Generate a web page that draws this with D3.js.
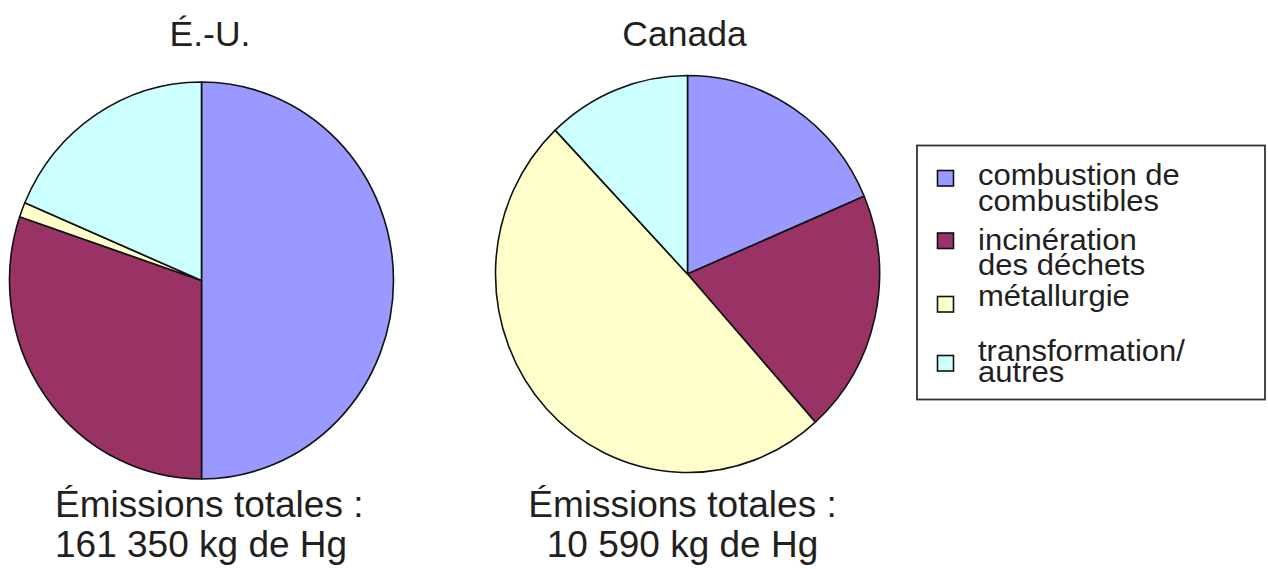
<!DOCTYPE html>
<html>
<head>
<meta charset="utf-8">
<script src="https://cdn.jsdelivr.net/npm/d3@7/dist/d3.min.js"></script>
<style>
  html, body { margin: 0; padding: 0; background: #fff; }
  svg { display: block; }
  text { font-family: "Liberation Sans", Arial, Helvetica, sans-serif; fill: #231f20; }
</style>
</head>
<body>
<svg id="chart" width="1268" height="569"></svg>
<script>
// Mercury emission sources (share of total, %)
const categories = ["combustion de combustibles", "incinération des déchets", "métallurgie", "transformation/autres"];
const legendLines = [["combustion de", "combustibles"], ["incinération", "des déchets"], ["métallurgie"], ["transformation/", "autres"]];
const colors = ["#9999ff", "#993366", "#ffffcc", "#ccffff"];
const usValues = [50.0, 30.2, 1.2, 18.6];
const canadaValues = [18.6, 19.8, 49.5, 12.1];
const titles = ["É.-U.", "Canada"];
const totals = ["161 350 kg de Hg", "10 590 kg de Hg"];
const totalsCaption = "Émissions totales :";

const svg = d3.select("#chart");
const color = d3.scaleOrdinal().domain(categories).range(colors);
const pie = d3.pie().sort(null).value(d => d.value);
const radius = 192;
const arc = d3.arc().innerRadius(0).outerRadius(radius);

const charts = [
  { values: usValues, cx: 201.5, cy: 280.5, titleX: 210, captionX: 55, anchor: "start" },
  { values: canadaValues, cx: 687.5, cy: 274, titleX: 684.5, captionX: 682.5, anchor: "middle" }
];

charts.forEach((c, i) => {
  const data = pie(categories.map((k, j) => ({ key: k, value: c.values[j] })));
  const g = svg.append("g").attr("transform", `translate(${c.cx},${c.cy}) scale(1,1.034)`);
  g.selectAll("path").data(data).join("path")
    .attr("d", arc)
    .attr("fill", d => color(d.data.key))
    .attr("stroke", "#111")
    .attr("stroke-width", 1.6)
    .attr("stroke-linejoin", "round");

  svg.append("text")
    .attr("x", c.titleX).attr("y", 45.5)
    .attr("text-anchor", "middle")
    .style("font-size", "35.5px")
    .text(titles[i]);

  svg.append("text")
    .attr("x", c.captionX).attr("y", 516.5)
    .attr("text-anchor", c.anchor)
    .style("font-size", "37px")
    .text(totalsCaption);
  svg.append("text")
    .attr("x", c.captionX).attr("y", 557)
    .attr("text-anchor", c.anchor)
    .style("font-size", "37px")
    .text(totals[i]);
});

// Legend
const legend = svg.append("g");
legend.append("rect")
  .attr("x", 917).attr("y", 145.5).attr("width", 348).attr("height", 254)
  .attr("fill", "#fff").attr("stroke", "#333").attr("stroke-width", 1.8);

const rowSwatchY = [170.5, 233, 296.5, 355.5];
const rowBaseY = [185, 250, 306.5, 361.5];
const rowStep = [26, 25, 0, 21];

categories.forEach((k, i) => {
  legend.append("rect")
    .attr("x", 937.5).attr("y", rowSwatchY[i]).attr("width", 16).attr("height", 15.5)
    .attr("fill", color(k)).attr("stroke", "#111").attr("stroke-width", 1.6);
  // labels are slightly wide-set, so stretch them a little horizontally
  const t = legend.append("text")
    .attr("transform", `translate(978,0) scale(1.035,1)`)
    .attr("x", 0).attr("y", rowBaseY[i])
    .style("font-size", "30px");
  legendLines[i].forEach((line, j) => {
    t.append("tspan")
      .attr("x", 0)
      .attr("y", rowBaseY[i] + j * rowStep[i])
      .text(line);
  });
});
</script>
</body>
</html>
